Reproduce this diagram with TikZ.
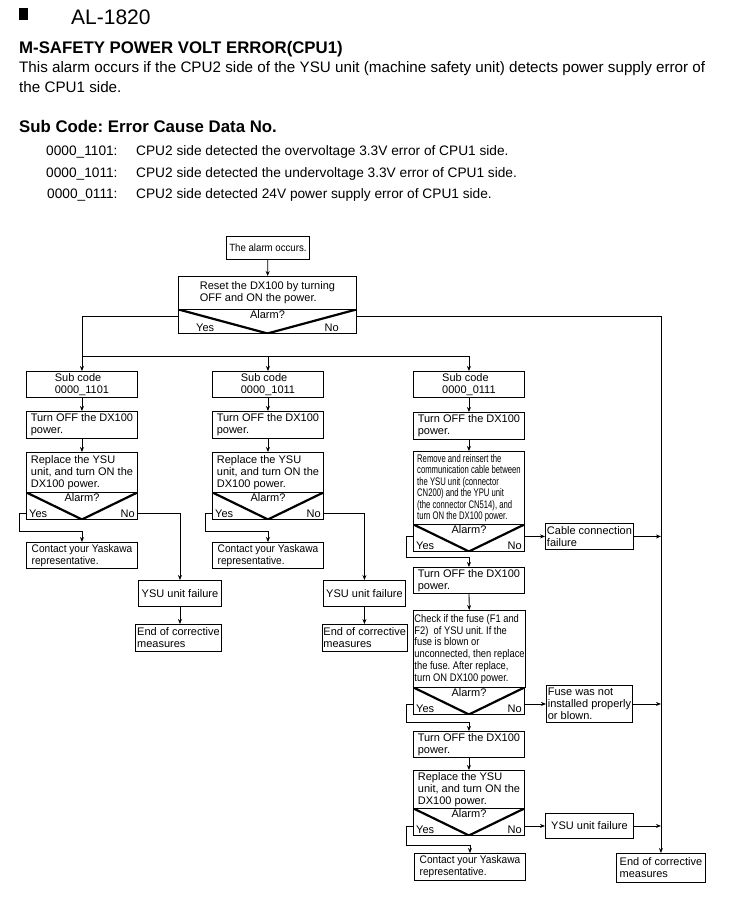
\documentclass[tikz,border=0pt]{standalone}
\usepackage{fontspec}
\setmainfont{Liberation Sans}
\newfontfamily\semifont{Liberation Sans}[FakeStretch=0.92]
\newfontfamily\fusefont{Liberation Sans}[FakeStretch=0.85]
\newfontfamily\narrowfont{Liberation Sans}[FakeStretch=0.70]
\usetikzlibrary{arrows.meta}
\newcommand\flowfont{\fontsize{11}{12}\selectfont}
\frenchspacing

\tikzset{
  box/.style={draw, line width=0.9pt, anchor=north west, align=left, inner sep=1pt},
  colbox/.style={box, minimum width=111pt},
  alarmbox/.style={draw, line width=0.9pt, anchor=north west, minimum width=111pt,
    minimum height=27pt, inner sep=0pt,
    path picture={\draw[line width=2.2pt] (path picture bounding box.north west)
      -- (path picture bounding box.south) -- (path picture bounding box.north east);},
    label={[anchor=north, inner sep=1pt]north:Alarm?},
    label={[anchor=south west, inner ysep=2pt, inner xsep=#1]south west:Yes},
    label={[anchor=south east, inner ysep=2pt, inner xsep=#1]south east:No}},
  alarmbox/.default=3pt,
  arr/.style={-{Stealth[length=5pt, width=4pt]}, line width=0.8pt},
  txt/.style={anchor=base west, inner sep=0pt}
}

\begin{document}
\begin{tikzpicture}[x=1pt, y=-1pt, font=\flowfont]
        \fill[white] (0,0) rectangle (749,918);
        \useasboundingbox (0,0) rectangle (749,918);

        % Heading and explanation
        \fill (19,8) rectangle (28,20);
        \node[txt, font={\fontsize{21}{24}\selectfont}] (alno) at (71,24) {AL-1820};
        \node[txt, font={\bfseries\fontsize{16.8}{20}\selectfont}] (atitle) at (19,53.5) {M-SAFETY POWER VOLT ERROR(CPU1)};
        \node[txt, font={\fontsize{15.2}{18}\selectfont}] (adesc) at (19,72) {This alarm occurs if the CPU2 side of the YSU unit (machine safety unit) detects power supply error of};
        \node[txt, font={\fontsize{15.2}{18}\selectfont}] (adesc2) at (19,92) {the CPU1 side.};
        \node[txt, font={\bfseries\fontsize{16.8}{20}\selectfont}] (subhead) at (19,132) {Sub Code: Error Cause Data No.};

        % Sub code list
        \node[txt, font={\fontsize{13.7}{16}\selectfont}] (code1) at (46,155) {0000\_1101:};
        \node[txt, font={\fontsize{13.7}{16}\selectfont}] (code2) at (46,177) {0000\_1011:};
        \node[txt, font={\fontsize{13.7}{16}\selectfont}] (code3) at (47,198) {0000\_0111:};
        \node[txt, font={\fontsize{13.7}{16}\selectfont}] (cause1) at (136,155) {CPU2 side detected the overvoltage 3.3V error of CPU1 side.};
        \node[txt, font={\fontsize{13.7}{16}\selectfont}] (cause2) at (136,177) {CPU2 side detected the undervoltage 3.3V error of CPU1 side.};
        \node[txt, font={\fontsize{13.7}{16}\selectfont}] (cause3) at (136,198) {CPU2 side detected 24V power supply error of CPU1 side.};

        % Start and reset
        \node[box, minimum width=83pt, minimum height=23pt, font={\semifont\fontsize{10.5}{12}\selectfont}] (start) at (226,236) {The alarm occurs.};
        \node[box, minimum width=178pt, minimum height=33pt] (reset) at (178,276) {Reset the DX100 by turning\\OFF and ON the power.};
        \node[alarmbox=18pt, minimum width=178pt, minimum height=24pt] (d0) at (178,309) {};

        % Column 1: 0000_1101
        \node[colbox, minimum height=26pt] (sc1) at (26,371) {Sub code\\0000\_1101};
        \node[colbox, minimum height=27pt] (off1) at (26,411) {Turn OFF the DX100\\power.};
        \node[colbox, minimum height=40pt] (rep1) at (26,452) {Replace the YSU\\unit, and turn ON the\\DX100 power.};
        \node[alarmbox] (d1) at (26,492) {};
        \node[colbox, minimum height=26pt, font={\semifont\flowfont}] (ct1) at (26,542) {Contact your Yaskawa\\representative.};
        \node[box, minimum width=83pt, minimum height=26pt] (ysu1) at (138,580) {YSU unit failure};
        \node[box, minimum width=86pt, minimum height=27pt] (end1) at (135,624) {End of corrective\\measures};

        % Column 2: 0000_1011
        \node[colbox, minimum height=26pt] (sc2) at (212,371) {Sub code\\0000\_1011};
        \node[colbox, minimum height=27pt] (off2) at (212,411) {Turn OFF the DX100\\power.};
        \node[colbox, minimum height=40pt] (rep2) at (212,452) {Replace the YSU\\unit, and turn ON the\\DX100 power.};
        \node[alarmbox] (d2) at (212,492) {};
        \node[colbox, minimum height=26pt, font={\semifont\flowfont}] (ct2) at (212,542) {Contact your Yaskawa\\representative.};
        \node[box, minimum width=82pt, minimum height=26pt] (ysu2) at (323,580) {YSU unit failure};
        \node[box, minimum width=84pt, minimum height=27pt] (end2) at (322,624) {End of corrective\\measures};

        % Column 3: 0000_0111
        \node[colbox, minimum height=26pt] (sc3) at (413,371) {Sub code\\0000\_0111};
        \node[colbox, minimum height=27pt] (off3a) at (413,412) {Turn OFF the DX100\\power.};
        \node[colbox, minimum height=73pt, font={\narrowfont\fontsize{11}{11.5}\selectfont}] (rem) at (413,451) {Remove and reinsert the\\communication cable between\\the YSU unit (connector\\CN200) and the YPU unit\\(the connector CN514), and\\turn ON the DX100 power.};
        \node[alarmbox] (d3a) at (413,524) {};
        \node[box, minimum width=88pt, minimum height=26pt] (cable) at (545,523) {Cable connection\\failure};
        \node[colbox, minimum height=26pt] (off3b) at (413,567) {Turn OFF the DX100\\power.};
        \node[colbox, minimum height=77pt, font={\fusefont\fontsize{11}{11.8}\selectfont}] (chk) at (413,610) {Check if the fuse (F1 and\\F2)~ of YSU unit. If the\\fuse is blown or\\unconnected, then replace\\the fuse. After replace,\\turn ON DX100 power.};
        \node[alarmbox] (d3b) at (413,687) {};
        \node[box, minimum width=86pt, minimum height=37pt] (fuse) at (546,685) {Fuse was not\\installed properly\\or blown.};
        \node[colbox, minimum height=26pt] (off3c) at (413,731) {Turn OFF the DX100\\power.};
        \node[colbox, minimum height=38pt] (rep3) at (413,770) {Replace the YSU\\unit, and turn ON the\\DX100 power.};
        \node[alarmbox] (d3c) at (413,808) {};
        \node[box, minimum width=88pt, minimum height=25pt] (ysu3) at (545,813) {YSU unit failure};
        \node[colbox, minimum height=27pt, font={\semifont\flowfont}] (ct3) at (414,853) {Contact your Yaskawa\\representative.};
        \node[box, minimum width=89pt, minimum height=29pt] (end3) at (616,853) {End of corrective\\measures};

        % Connectors at the top
        \draw[arr] (start) -- (reset);
        \draw[arr] ([yshift=5pt]d0.west) -| (sc1.north);
        \draw[arr] ([yshift=15pt]sc1.north) -| (sc3.north);
        \draw[arr] ([yshift=15pt]sc2.north) -- (sc2.north);
        \draw[arr] ([yshift=5pt]d0.east) -| (end3.north);

        % Columns 1 and 2
        \foreach \c in {1,2} {
            \draw[arr] (sc\c) -- (off\c);
            \draw[arr] (off\c) -- (rep\c);
            \draw[arr] ([yshift=7pt]d\c.south west) -- ++(-7,0) |- ([yshift=11pt]ct\c.north) -- (ct\c.north);
            \draw[arr] ([yshift=7pt]d\c.south east) -| (ysu\c.north);
            \draw[arr] (ysu\c.south) -- (ysu\c.south |- end\c.north);
        }

        % Column 3
        \draw[arr] (sc3) -- (off3a);
        \draw[arr] (off3a) -- (rem);
        \draw[arr] (d3a.east |- cable.west) -- (cable.west);
        \draw[arr] (cable.east) -- (cable.east -| end3.north);
        \draw[arr] (d3a.west |- cable.west) -- ++(-7,0) |- ([yshift=10pt]off3b.north) -- (off3b.north);
        \draw[arr] (off3b) -- (chk);
        \draw[arr] (d3b.east |- fuse.west) -- (fuse.west);
        \draw[arr] (fuse.east) -- (fuse.east -| end3.north);
        \draw[arr] (d3b.west |- fuse.west) -- ++(-7,0) |- ([yshift=9pt]off3c.north) -- (off3c.north);
        \draw[arr] (off3c) -- (rep3);
        \draw[arr] (d3c.east |- ysu3.west) -- (ysu3.west);
        \draw[arr] (ysu3.east) -- (ysu3.east -| end3.north);
        \draw[arr] (d3c.west |- ysu3.west) -- ++(-7,0) |- ([yshift=8pt]ct3.north) -- (ct3.north);
\end{tikzpicture}
\end{document}
